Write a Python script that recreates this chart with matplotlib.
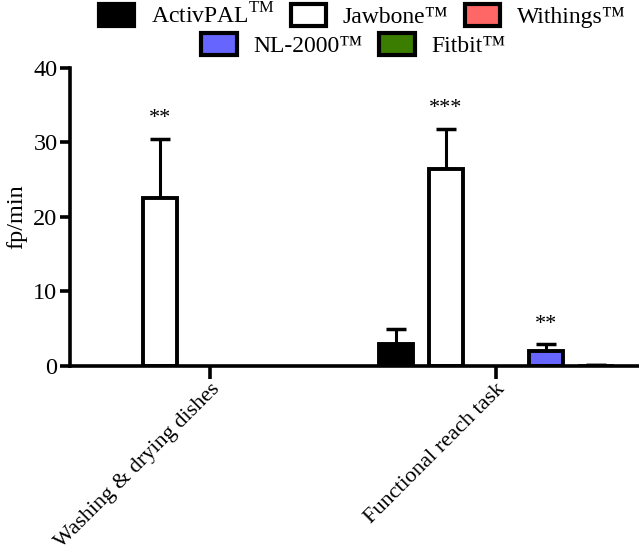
import numpy as np
import matplotlib
matplotlib.use("Agg")
import matplotlib.pyplot as plt
from matplotlib.patches import Patch

plt.rcParams["font.family"] = ["Liberation Serif", "DejaVu Serif"]
plt.rcParams["mathtext.fontset"] = "custom"
plt.rcParams["mathtext.rm"] = "Liberation Serif"

# ---------------------------
# Data
# ---------------------------
tasks = ["Washing & drying dishes", "Functional reach task"]
devices = ["ActivPAL$^{\\mathrm{TM}}$", "Jawbone™", "Withings™", "NL-2000™", "Fitbit™"]
colors = ["#000000", "#ffffff", "#ff6666", "#6666ff", "#3a7d00"]

# mean fp/min per device, one value per task
means = [
    [0.0, 3.0],     # ActivPAL
    [22.5, 26.5],   # Jawbone
    [0.0, 0.0],     # Withings
    [0.0, 2.0],     # NL-2000
    [0.0, 0.15],    # Fitbit
]
errs = [
    [0.0, 2.0],
    [8.0, 5.3],
    [0.0, 0.0],
    [0.0, 0.9],
    [0.0, 0.0],
]
stars = [
    ["", ""],
    ["**", "***"],
    ["", ""],
    ["", "**"],
    ["", ""],
]

# ---------------------------
# Plot
# ---------------------------
fig = plt.figure(figsize=(6.39, 5.54), dpi=100)
ax = fig.add_axes([0.1095, 0.3394, 0.89, 0.538])

group_x = np.array([0.0, 5.72])
width = 0.68
for i, dev in enumerate(devices):
    x = group_x + (i - 2)
    m = np.array(means[i])
    up = np.array(errs[i])
    keep = m > 0  # zero-height bars are not drawn in the original
    if not keep.any():
        continue
    lw = np.where(m[keep] < 0.5, 1.2, 2.8)
    ax.bar(x[keep], m[keep], width, color=colors[i], edgecolor="black",
           linewidth=lw, zorder=2)
    ax.errorbar(x[keep], m[keep], yerr=[np.zeros(keep.sum()), up[keep]],
                fmt="none", ecolor="black", elinewidth=2.2, capsize=7,
                capthick=2.5, zorder=1)
    for j in range(len(tasks)):
        if stars[i][j]:
            ax.text(x[j], m[j] + up[j] + 2.7, stars[i][j],
                    ha="center", va="center", fontsize=16)

ax.set_xlim(-2.8, 8.58)
ax.set_ylim(0, 40)
ax.set_yticks([0, 10, 20, 30, 40])
ax.set_xticks(group_x)
ax.set_xticklabels(tasks, rotation=45, ha="right", rotation_mode="anchor")
ax.set_ylabel("fp/min", fontsize=17.5, labelpad=4)

for s in ["top", "right"]:
    ax.spines[s].set_visible(False)
for s in ["left", "bottom"]:
    ax.spines[s].set_linewidth(2.6)
ax.tick_params(axis="both", width=2.6, length=7)
ax.tick_params(axis="y", pad=2, labelsize=17.5)
ax.tick_params(axis="x", length=9, pad=1, labelsize=16)

# legends: 3 entries on first row, 2 on second
handles = [Patch(facecolor=c, edgecolor="black", linewidth=3) for c in colors]
legend_kw = dict(frameon=False, fontsize=17, handlelength=1.5,
                 handleheight=1.05, columnspacing=0.7, handletextpad=0.7)
fig.legend(handles[:3], devices[:3], ncol=3, loc="center",
           bbox_to_anchor=(0.567, 0.972), **legend_kw)
fig.legend(handles[3:], devices[3:], ncol=2, loc="center",
           bbox_to_anchor=(0.553, 0.918), **legend_kw)

fig.savefig("out.png", dpi=100)
